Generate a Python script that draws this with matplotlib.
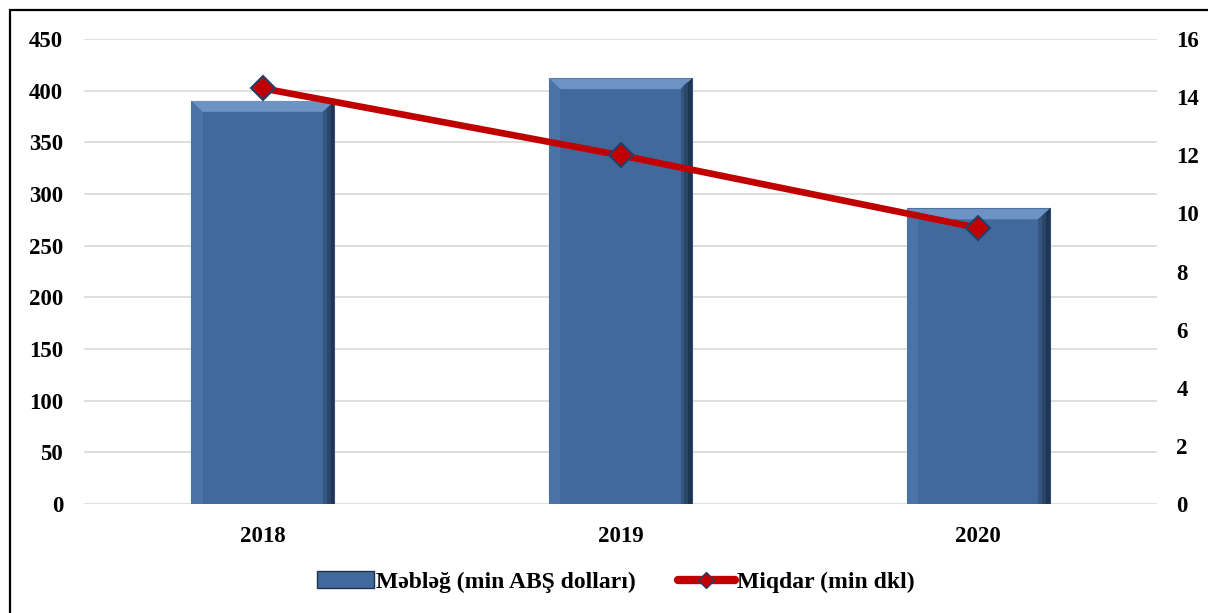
import matplotlib
matplotlib.use("Agg")
import matplotlib.pyplot as plt
from matplotlib.patches import Polygon, Rectangle
from matplotlib.lines import Line2D
import numpy as np

years = ["2018", "2019", "2020"]
amount = [390, 412, 286]          # Məbləğ (min ABŞ dolları)
quantity = [14.3, 12.0, 9.5]      # Miqdar (min dkl)
left_ticks = [0, 50, 100, 150, 200, 250, 300, 350, 400, 450]
right_ticks = [0, 2, 4, 6, 8, 10, 12, 14, 16]
label_bar = "Məbləğ (min ABŞ dolları)"
label_line = "Miqdar (min dkl)"

plt.rcParams['font.family'] = ['Liberation Serif', 'DejaVu Serif']
plt.rcParams['font.weight'] = 'bold'
FS = 16.5
LFS = 17

fig = plt.figure(figsize=(12.08, 6.13), dpi=100)
ax = fig.add_axes([84/1208, 1-504/613, (1157-84)/1208, (504-39)/613])
x = np.arange(len(years))
bar_w = 0.40
main_c = "#41699B"
bars = ax.bar(x, amount, width=bar_w, color=main_c, edgecolor="#2F4F78", linewidth=0.8, zorder=2)
ax.set_xlim(-0.5, len(years)-0.5)
ax.set_ylim(0, 450)

# bevel effect
dx = 0.032
dy = 10.5
for b in bars:
    x0 = b.get_x(); x1 = x0 + b.get_width(); h = b.get_height()
    top = Polygon([(x0, h), (x1, h), (x1-dx, h-dy), (x0+dx, h-dy)], closed=True,
                  facecolor="#6C93C4", edgecolor="none", zorder=3)
    right = Polygon([(x1, h), (x1, 0), (x1-dx, 0), (x1-dx, h-dy)], closed=True,
                    facecolor="#1F3553", edgecolor="none", zorder=3)
    left = Polygon([(x0, h), (x0, 0), (x0+dx, 0), (x0+dx, h-dy)], closed=True,
                   facecolor="#4A74A8", edgecolor="none", zorder=3)
    ax.add_patch(left); ax.add_patch(right); ax.add_patch(top)
    for k, c in enumerate(["#2A4669", "#34557E"]):
        ox = dx*(1+k)/3
        ax.add_patch(Polygon([(x1-ox, h-dy*ox/dx), (x1-ox, 0), (x1-ox-dx/3, 0), (x1-ox-dx/3, h-dy*(ox+dx/3)/dx)],
                             closed=True, facecolor=c, edgecolor="none", zorder=3))

ax.set_yticks(left_ticks)
ax.grid(axis='y', color="#D9D9D9", linewidth=1.2, zorder=0)
ax.set_axisbelow(True)
for s in ax.spines.values():
    s.set_visible(False)
ax.set_xticks(x)
ax.set_xticklabels(years)
ax.tick_params(axis='both', length=0, labelsize=FS)
ax.tick_params(axis='y', pad=15)
ax.tick_params(axis='x', pad=16)

ax2 = ax.twinx()
ax2.set_ylim(0, 16)
ax2.set_yticks(right_ticks)
for s in ax2.spines.values():
    s.set_visible(False)
ax2.tick_params(axis='y', length=0, labelsize=FS, pad=14)
ax2.plot(x, quantity, color="#C00000", linewidth=4.8, marker='D', markersize=12,
         markerfacecolor="#C00000", markeredgecolor="#23406A", markeredgewidth=1.5, zorder=5,
         solid_capstyle='butt')

for lab in ax.get_xticklabels() + ax.get_yticklabels() + ax2.get_yticklabels():
    lab.set_fontweight('bold')

h1 = Rectangle((0, 0), 1, 1, facecolor=main_c, edgecolor="#1F3553")
h2 = Line2D([0], [0], color="#C00000", linewidth=6, marker='D', markersize=8,
            markerfacecolor="#C00000", markeredgecolor="#23406A", solid_capstyle='round')
fig.legend([h1, h2], [label_bar, label_line], loc='center', bbox_to_anchor=(0.51, 1-582/613),
           ncol=2, frameon=False, prop={'weight': 'bold', 'size': LFS}, handlelength=2.4,
           handletextpad=0.1, columnspacing=1.78)

fig.add_artist(Rectangle((10/1208, -0.05), 1.1, 1-10/613+0.05, transform=fig.transFigure,
                         fill=False, edgecolor="black", linewidth=1.6))

fig.savefig("out.png", dpi=100)
